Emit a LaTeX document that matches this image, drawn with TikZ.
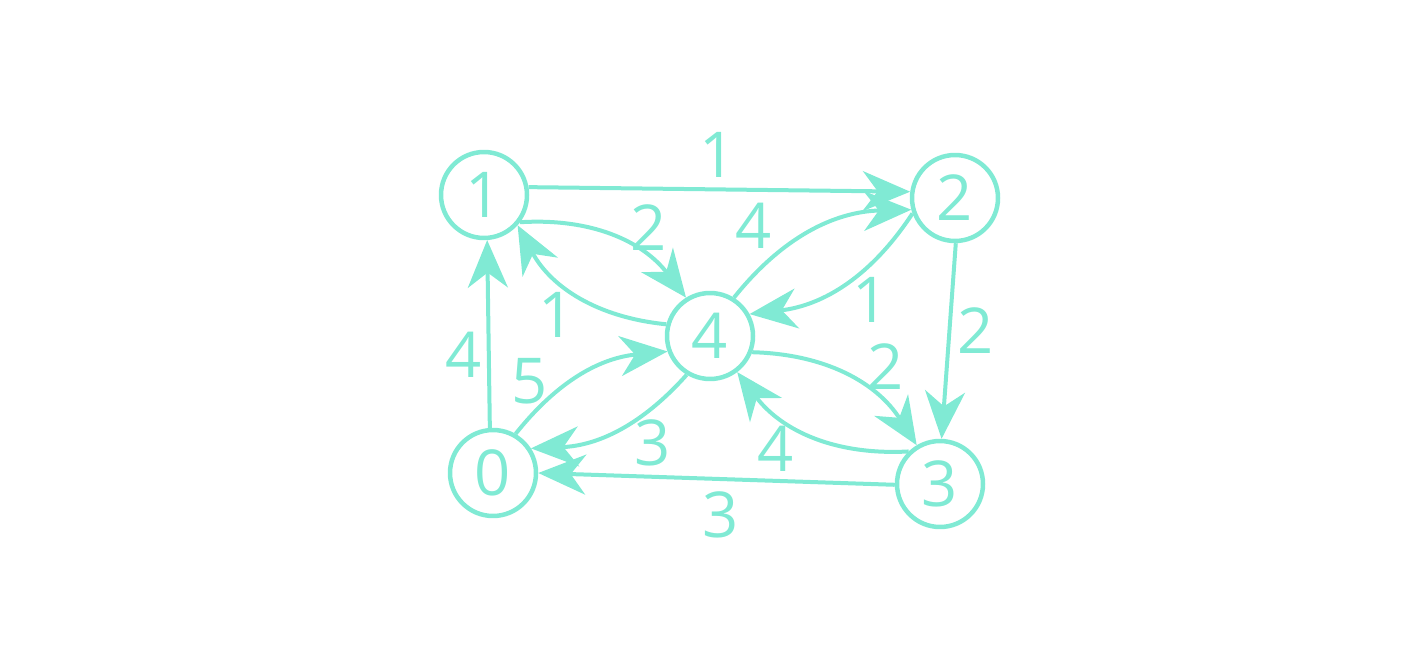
\documentclass[tikz,border=0pt]{standalone}
\usepackage{fontspec}
\setmainfont{Open Sans}
\usetikzlibrary{arrows.meta}
\definecolor{gmint}{HTML}{80EAD4}

\begin{document}
\begin{tikzpicture}[x=0.02cm, y=-0.02cm,
    vertex/.style={circle, draw=gmint, line width=0.09cm, minimum size=1.72cm,
      inner sep=0pt, text=gmint, font=\fontsize{36}{40}\selectfont},
    edge/.style={draw=gmint, line width=0.08cm,
      -{Stealth[length=0.95cm, width=0.8cm, inset=0.3cm]}},
    wt/.style={text=gmint, inner sep=0pt, font=\fontsize{36}{40}\selectfont}]
  \useasboundingbox (0,0) rectangle (1416,672);

  % vertices
  \node[vertex] (n0) at (493,473) {0};
  \node[vertex] (n1) at (484,195) {1};
  \node[vertex] (n2) at (955,198) {2};
  \node[vertex] (n3) at (940,484) {3};
  \node[vertex] (n4) at (710,336) {4};

  % outer edges
  \draw[edge] (n1.10) -- (n2.172);
  \draw[edge] (n2.-89) -- (n3.88);
  \draw[edge] (n3.181) -- (n0.0);
  \draw[edge] (n0.94) -- (n1.-86);

  % edges through the middle
  \draw[edge] (n1.-37) to[bend left=28] (n4.122);
  \draw[edge] (n4.165) to[bend left=28] (n1.-42);
  \draw[edge] (n4.58) to[bend left=25] (n2.195);
  \draw[edge] (n2.200) to[bend left=25] (n4.29);
  \draw[edge] (n0.60) to[bend left=23] (n4.200);
  \draw[edge] (n4.239) to[bend left=23] (n0.33);
  \draw[edge] (n4.-21) to[bend left=28] (n3.121);
  \draw[edge] (n3.134) to[bend left=28] (n4.-53);

  % weights
  \node[wt] (w12) at (718,155) {1};
  \node[wt] (w23) at (976,331) {2};
  \node[wt] (w30) at (721,515) {3};
  \node[wt] (w01) at (464,355) {4};
  \node[wt] (w14) at (649,228) {2};
  \node[wt] (w41) at (557,315) {1};
  \node[wt] (w42) at (754,226) {4};
  \node[wt] (w24) at (871,300) {1};
  \node[wt] (w04) at (530,381) {5};
  \node[wt] (w40) at (653,443) {3};
  \node[wt] (w43) at (886,367) {2};
  \node[wt] (w34) at (776,449) {4};
\end{tikzpicture}
\end{document}
